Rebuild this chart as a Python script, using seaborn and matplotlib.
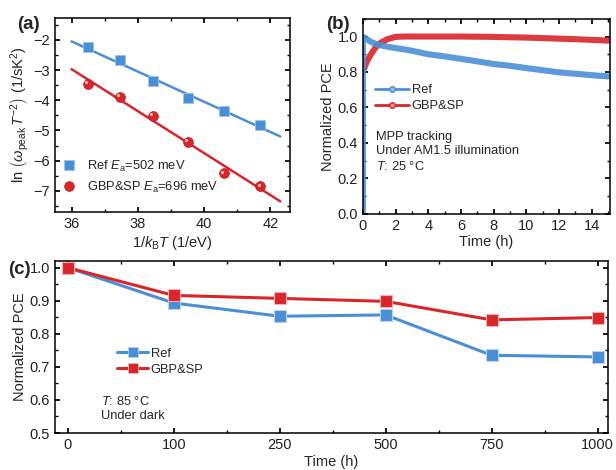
import matplotlib
matplotlib.use('Agg')
import matplotlib.pyplot as plt
from matplotlib.ticker import MultipleLocator
from matplotlib.lines import Line2D
from matplotlib.transforms import ScaledTranslation
import pandas as pd
import seaborn as sns

# (a) Arrhenius plot
inv_kt = [36.5, 37.45, 38.45, 39.5, 40.6, 41.7]
ref_ln = [-2.25, -2.68, -3.35, -3.93, -4.35, -4.83]
gbp_ln = [-3.45, -3.88, -4.52, -5.37, -6.42, -6.85]
fit_x = [36.0, 42.3]
ref_fit = [-2.05, -5.20]
gbp_fit = [-2.97, -7.35]

# (b) MPP tracking
mpp_t = [0, 0, 0.25, 0.5, 0.75, 1, 1.5, 2, 2.5, 3, 4, 5, 6, 7, 8, 9, 10, 11, 12, 13, 14, 15]
mpp_ref = [0.0, 1.0, 0.985, 0.97, 0.96, 0.952, 0.943, 0.935, 0.928, 0.92, 0.9, 0.888,
           0.874, 0.86, 0.845, 0.835, 0.822, 0.81, 0.798, 0.79, 0.782, 0.775]
mpp_gbp = [0.8, 0.8, 0.86, 0.9, 0.935, 0.96, 0.985, 0.998, 1.0, 1.0, 1.0, 1.0,
           1.0, 0.999, 0.998, 0.996, 0.994, 0.991, 0.988, 0.985, 0.981, 0.977]

# (c) thermal stability
hours = ['0', '100', '250', '500', '750', '1000']
dark_ref = [1.0, 0.893, 0.853, 0.857, 0.735, 0.730]
dark_gbp = [1.0, 0.916, 0.907, 0.898, 0.842, 0.849]

BLUE = '#4a8fd6'
RED = '#d9262b'
LEG_FS = 9.3

sns.set_theme(style='ticks')
plt.rcParams['font.family'] = ['Liberation Sans', 'DejaVu Sans']
plt.rcParams['mathtext.fontset'] = 'custom'
plt.rcParams['mathtext.rm'] = 'Liberation Sans'
plt.rcParams['mathtext.it'] = 'Liberation Sans:italic'
plt.rcParams['mathtext.bf'] = 'Liberation Sans:bold'
plt.rcParams['font.size'] = 10
plt.rcParams['axes.linewidth'] = 1.1
for k in ['xtick', 'ytick']:
    plt.rcParams[k + '.direction'] = 'in'
    plt.rcParams[k + '.labelsize'] = 10.5
    plt.rcParams[k + '.major.size'] = 3.5
    plt.rcParams[k + '.minor.size'] = 2
    plt.rcParams[k + '.color'] = 'black'
    plt.rcParams[k + '.labelcolor'] = '#222222'

fig = plt.figure(figsize=(6.16, 4.7), dpi=100)
ax_a = fig.add_axes([0.0893, 0.549, 0.382, 0.413])
ax_b = fig.add_axes([0.589, 0.545, 0.401, 0.415])
ax_c = fig.add_axes([0.0893, 0.0787, 0.898, 0.366])


def frame(ax):
    ax.tick_params(which='both', top=True, right=True)
    for s in ax.spines.values():
        s.set_color('black')


# ---- (a)
sns.lineplot(x=fit_x, y=ref_fit, color=BLUE, lw=1.8, ax=ax_a)
sns.lineplot(x=fit_x, y=gbp_fit, color=RED, lw=1.8, ax=ax_a)
sns.scatterplot(x=inv_kt, y=ref_ln, marker='s', s=42, color=BLUE, edgecolor='#9cc3ea',
                linewidth=0.6, ax=ax_a, zorder=3)
sns.scatterplot(x=inv_kt, y=gbp_ln, marker='o', s=50, color=RED, edgecolor='#b81c20',
                linewidth=0.5, ax=ax_a, zorder=3)
# little shine on the red balls
shine = ax_a.transData + ScaledTranslation(-1.3 / 72, 1.3 / 72, fig.dpi_scale_trans)
ax_a.scatter(inv_kt, gbp_ln, s=5, color='#f6c2c2', transform=shine, zorder=4, lw=0)
ax_a.set_xlim(35.5, 42.6)
ax_a.set_ylim(-7.7, -1.27)
ax_a.xaxis.set_major_locator(MultipleLocator(2))
ax_a.xaxis.set_minor_locator(MultipleLocator(1))
ax_a.yaxis.set_major_locator(MultipleLocator(1))
ax_a.yaxis.set_minor_locator(MultipleLocator(0.5))
ax_a.set_xlabel(r'1/$k_\mathrm{B}T$ (1/eV)', fontsize=10.5, labelpad=2)
ax_a.set_ylabel(r'ln $\left(\omega_\mathrm{peak}\,T^{-2}\right)$ (1/sK$^2$)', fontsize=10.5, labelpad=2)
frame(ax_a)
h_a = [Line2D([], [], ls='none', marker='s', ms=6.5, color=BLUE, mec='#9cc3ea', mew=0.6),
       Line2D([], [], ls='none', marker='o', ms=7, color=RED, mec='#b81c20', mew=0.5)]
ax_a.legend(h_a, [r'Ref $E_\mathrm{a}$=502 meV', r'GBP&SP $E_\mathrm{a}$=696 meV'],
            loc='lower left', bbox_to_anchor=(0.0, 0.05), frameon=False, fontsize=LEG_FS,
            handlelength=1.0, handletextpad=0.85, borderaxespad=0.2, labelspacing=0.42)

# ---- (b)
sns.lineplot(x=mpp_t, y=mpp_gbp, color=RED, lw=4.4, alpha=0.9, estimator=None, sort=False, ax=ax_b)
sns.lineplot(x=mpp_t, y=mpp_ref, color=BLUE, lw=4.4, alpha=0.9, estimator=None, sort=False, ax=ax_b)
ax_b.set_xlim(0, 15.1)
ax_b.set_ylim(0, 1.1)
ax_b.xaxis.set_major_locator(MultipleLocator(2))
ax_b.xaxis.set_minor_locator(MultipleLocator(1))
ax_b.yaxis.set_major_locator(MultipleLocator(0.2))
ax_b.yaxis.set_minor_locator(MultipleLocator(0.1))
ax_b.set_xlabel('Time (h)', fontsize=10.5, labelpad=2)
ax_b.set_ylabel('Normalized PCE', fontsize=10.5, labelpad=2)
frame(ax_b)
h_b = [Line2D([], [], color=BLUE, lw=2, marker='o', ms=4, mfc='#8fbbe8', mec=BLUE),
       Line2D([], [], color=RED, lw=2, marker='o', ms=4, mfc='#ef8f8f', mec=RED)]
ax_b.legend(h_b, ['Ref', 'GBP&SP'], loc='upper left', bbox_to_anchor=(0.03, 0.69),
            frameon=False, fontsize=LEG_FS, handlelength=2.6, handletextpad=0.2,
            labelspacing=0.3, borderaxespad=0)
ax_b.text(0.055, 0.425, 'MPP tracking\nUnder AM1.5 illumination\n$T$: 25 °C',
          transform=ax_b.transAxes, fontsize=LEG_FS, va='top', linespacing=1.25)

# ---- (c)
sns.lineplot(x=hours, y=dark_ref, color=BLUE, lw=2.2, marker='s', ms=8, mec='#b5d3f0',
             mew=0.8, sort=False, ax=ax_c)
sns.lineplot(x=hours, y=dark_gbp, color=RED, lw=2.2, marker='s', ms=8, mec='#f0b3b3',
             mew=0.8, sort=False, ax=ax_c)
ax_c.set_xlim(-0.12, 5.1)
ax_c.set_ylim(0.5, 1.02)
ax_c.set_xticks(range(len(hours)))
ax_c.set_xticklabels(hours)
ax_c.xaxis.set_minor_locator(MultipleLocator(0.5))
ax_c.yaxis.set_major_locator(MultipleLocator(0.1))
ax_c.yaxis.set_minor_locator(MultipleLocator(0.05))
ax_c.set_xlabel('Time (h)', fontsize=10.5, labelpad=2)
ax_c.set_ylabel('Normalized PCE', fontsize=10.5, labelpad=2)
frame(ax_c)
h_c = [Line2D([], [], color=BLUE, lw=2.2, marker='s', ms=7, mec='#b5d3f0', mew=0.6),
       Line2D([], [], color=RED, lw=2.2, marker='s', ms=7, mec='#f0b3b3', mew=0.6)]
ax_c.legend(h_c, ['Ref', 'GBP&SP'], loc='upper left', bbox_to_anchor=(0.103, 0.525),
            frameon=False, fontsize=LEG_FS, handlelength=2.4, handletextpad=0.2,
            labelspacing=0.3, borderaxespad=0)
ax_c.text(0.083, 0.222, '$T$: 85 °C\nUnder dark', transform=ax_c.transAxes,
          fontsize=LEG_FS, va='top', linespacing=1.2)

# panel letters
fig.text(0.027, 0.966, '(a)', fontsize=13.5, fontweight='bold', va='top')
fig.text(0.53, 0.966, '(b)', fontsize=13.5, fontweight='bold', va='top')
fig.text(0.013, 0.445, '(c)', fontsize=13.5, fontweight='bold', va='top')

fig.savefig('out.png', dpi=100)
